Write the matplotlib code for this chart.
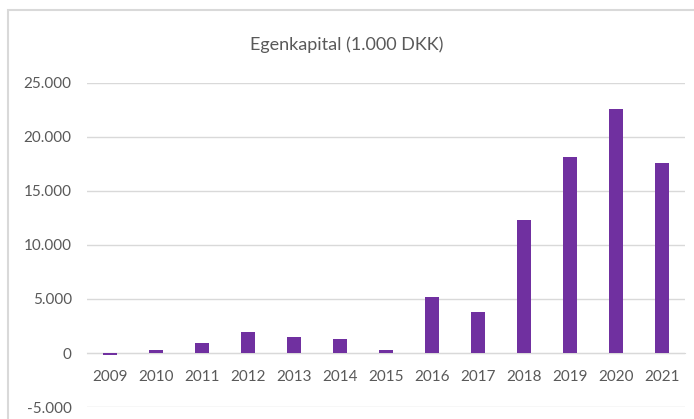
import matplotlib
matplotlib.use('Agg')
import matplotlib.pyplot as plt
from matplotlib.ticker import FuncFormatter
from matplotlib.patches import Rectangle

years = ['2009', '2010', '2011', '2012', '2013', '2014', '2015',
         '2016', '2017', '2018', '2019', '2020', '2021']
egenkapital = [-150, 300, 950, 1950, 1500, 1300, 300,
               5200, 3800, 12300, 18150, 22600, 17600]

plt.rcParams['font.family'] = ['Lato', 'DejaVu Sans']
text_grey = '#595959'

fig = plt.figure(figsize=(6.94, 4.19), dpi=100)
ax = fig.add_axes([0.1254, 0.0286, 0.862, 0.7734])

x = range(len(years))
ax.bar(x, egenkapital, width=0.3, color='#7030A0', zorder=3)

ax.set_ylim(-5000, 25000)
ax.set_xlim(-0.5, len(years) - 0.5)
ax.set_yticks(range(-5000, 25001, 5000))
ax.yaxis.set_major_formatter(FuncFormatter(lambda v, p: '{:,.0f}'.format(v).replace(',', '.')))
ax.grid(axis='y', color='#D9D9D9', linewidth=1, zorder=0)

for s in ['top', 'right', 'left']:
    ax.spines[s].set_visible(False)
ax.spines['bottom'].set_position(('data', 0))
ax.spines['bottom'].set_color('#D9D9D9')

ax.set_xticks(list(x))
ax.set_xticklabels(years)
ax.tick_params(axis='x', length=0, pad=12, labelsize=11, colors=text_grey)
ax.tick_params(axis='y', length=0, pad=11, labelsize=11, colors=text_grey)

fig.text(0.5, 0.893, 'Egenkapital (1.000 DKK)', ha='center', va='center',
         fontsize=13, color=text_grey)

# outer chart border
fig.patches.append(Rectangle((8 / 694, -0.1), 1.2, 1 - 10 / 419 + 0.1,
                             transform=fig.transFigure, fill=False,
                             edgecolor='#D9D9D9', linewidth=1.5))

fig.savefig('out.png', dpi=100)
